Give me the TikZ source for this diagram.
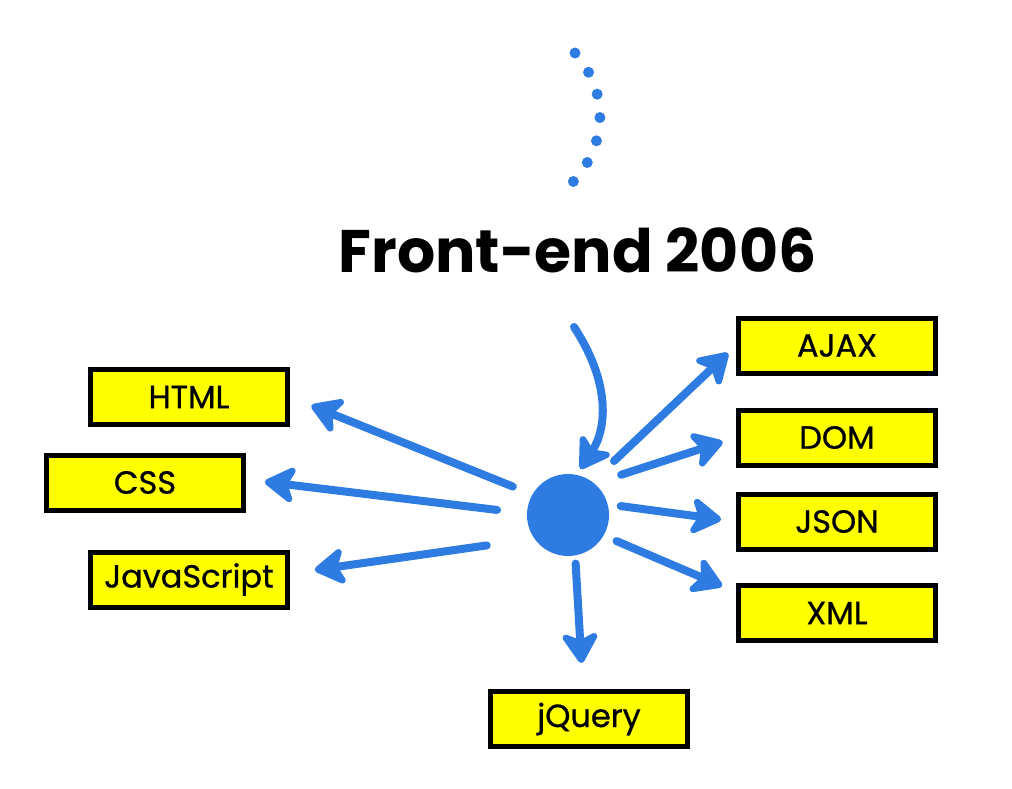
\documentclass[tikz,border=0pt]{standalone}
\usepackage{fontspec}
\setmainfont{Poppins}
\newfontfamily\labelfont[FakeBold=0.8]{Poppins}
\usetikzlibrary{arrows.meta}
\definecolor{fblue}{RGB}{46,123,226}
\definecolor{fyellow}{RGB}{255,255,0}
\tikzset{
  techbox/.style={draw=black, fill=fyellow, line width=5pt, minimum width=197pt, minimum height=55pt, inner sep=0pt, font=\labelfont\fontsize{32}{35}\selectfont},
  arr/.style={draw=fblue, line width=8pt, line cap=round, -{Stealth[length=36pt,width=44pt,inset=10pt,round]}},
}
\begin{document}
\begin{tikzpicture}[x=1pt,y=-1pt]
\useasboundingbox (0,0) rectangle (1012,789);
\node[font=\fontsize{60}{66}\selectfont\bfseries, inner sep=0pt] (title) at (577.5,250) {Front-end 2006};
\node[circle, fill=fblue, minimum size=82pt, inner sep=0pt] (c) at (568,515) {};
\node[techbox] (ajax) at (837,345.5) {AJAX};
\node[techbox] (html) at (189,397) {HTML};
\node[techbox] (dom) at (837,437.5) {DOM};
\node[techbox] (css) at (145,482.5) {CSS};
\node[techbox] (json) at (837,521.5) {JSON};
\node[techbox] (js) at (189,579.5) {JavaScript};
\node[techbox] (xml) at (837,613) {XML};
\node[techbox] (jq) at (589,719) {jQuery};
% dotted arc
\coordinate (dotA) at (575,53);
\coordinate (dotB) at (569,186);
\draw[fblue, line width=11pt, line cap=round, dash pattern=on 0pt off 23.6pt] (dotA) .. controls (612,95) and (606,150) .. (dotB);
% incoming arrow
\coordinate (inS) at (574,327);
\draw[arr, shorten >=7pt] (inS) .. controls (612,385) and (606,430) .. (c.78);
% outgoing arrows
\draw[arr, shorten <=30pt, shorten >=11pt] (c.54) -- (ajax.west);
\draw[arr, shorten <=28pt, shorten >=14pt] (c.50) -- (dom.west);
\draw[arr, shorten <=13pt, shorten >=15pt] (c.15) -- (json.west);
\draw[arr, shorten <=14pt, shorten >=15pt] (c.-30) -- ([yshift=21pt]xml.west);
\draw[arr, shorten <=8pt, shorten >=26pt] (c.-80) -- ([xshift=-6pt]jq.north);
\draw[arr, shorten <=21pt, shorten >=23pt] (c.150) -- (html.east);
\draw[arr, shorten <=30pt, shorten >=19pt] (c.178) -- ([yshift=3pt]css.east);
\draw[arr, shorten <=48pt, shorten >=25pt] (c.215) -- ([yshift=6pt]js.east);
\end{tikzpicture}
\end{document}
